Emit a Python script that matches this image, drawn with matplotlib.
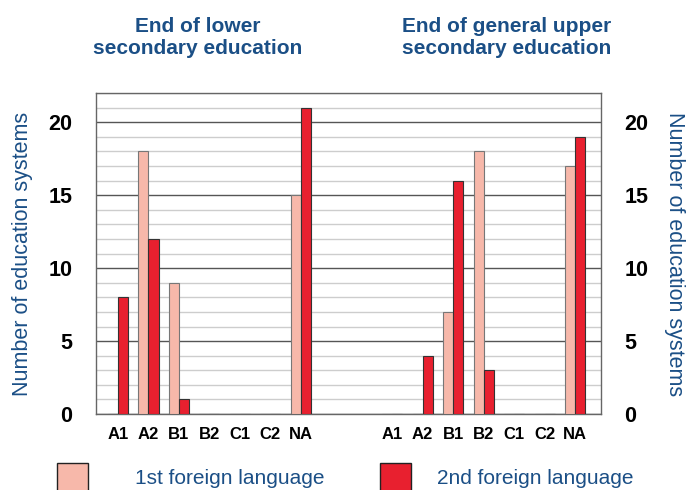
import matplotlib
matplotlib.use("Agg")
import matplotlib.pyplot as plt
from matplotlib.patches import Rectangle
import numpy as np

# niveles CEFR
levels = ["A1", "A2", "B1", "B2", "C1", "C2", "NA"]

# fin de secundaria inferior
lower_first = [0, 18, 9, 0, 0, 0, 15]
lower_second = [8, 12, 1, 0, 0, 0, 21]

# fin de secundaria superior general
upper_first = [0, 0, 7, 18, 0, 0, 17]
upper_second = [0, 4, 16, 3, 0, 0, 19]

titles = ["End of lower\nsecondary education", "End of general upper\nsecondary education"]
legend_labels = ["1st foreign language", "2nd foreign language"]
ylabel = "Number of education systems"

pink = "#F7B8AA"
red = "#E8202F"
blue = "#1B4F86"
plain = ["Liberation Sans", "DejaVu Sans"]

fig = plt.figure(figsize=(6.86, 4.9), dpi=100)
ax = fig.add_axes([0.140, 0.155, 0.736, 0.655])

x_lower = np.arange(len(levels))
x_upper = np.arange(len(levels)) + 9
w = 0.33

ax.bar(x_lower - w / 2, lower_first, w, color=pink, edgecolor="#777777", linewidth=0.8, zorder=3)
ax.bar(x_lower + w / 2, lower_second, w, color=red, edgecolor="#333333", linewidth=0.8, zorder=3)
ax.bar(x_upper - w / 2, upper_first, w, color=pink, edgecolor="#777777", linewidth=0.8, zorder=3)
ax.bar(x_upper + w / 2, upper_second, w, color=red, edgecolor="#333333", linewidth=0.8, zorder=3)

ax.set_xlim(-0.72, 15.85)
ax.set_ylim(0, 22)

# rejilla
ax.set_yticks(range(0, 21, 5))
ax.set_yticks(range(0, 23), minor=True)
ax.grid(axis="y", which="minor", color="#CDCDCD", linewidth=1.0, zorder=0)
ax.grid(axis="y", which="major", color="#555555", linewidth=1.0, zorder=1)
ax.tick_params(axis="y", which="both", length=0)
for s in ax.spines.values():
    s.set_color("#666666")
    s.set_linewidth(1.0)

ax.set_xticks(list(x_lower) + list(x_upper))
ax.set_xticklabels(levels + levels, fontsize=12, fontweight="bold", family=plain)
ax.tick_params(axis="x", length=0, pad=9)

ax.tick_params(axis="y", labelsize=15.5, pad=17)
for t in ax.get_yticklabels():
    t.set_fontweight("bold")
    t.set_family(plain)
ax.set_ylabel(ylabel, color=blue, fontsize=15.5, family=plain)
ax.yaxis.set_label_coords(-0.125, 0.5)

ax2 = ax.twinx()
ax2.set_ylim(ax.get_ylim())
ax2.set_yticks(range(0, 21, 5))
ax2.tick_params(axis="y", length=0, labelsize=15.5, pad=17)
for t in ax2.get_yticklabels():
    t.set_fontweight("bold")
    t.set_family(plain)
for s in ax2.spines.values():
    s.set_visible(False)
ax2.set_ylabel(ylabel, color=blue, fontsize=15.5, family=plain, rotation=270, va="center")
ax2.yaxis.set_label_coords(1.145, 0.5)

# titulos
fig.text(198 / 686, 1 - 37 / 490, titles[0], ha="center", va="center", color=blue,
         fontsize=15, fontweight="bold", family=plain, linespacing=1.2)
fig.text(507 / 686, 1 - 37 / 490, titles[1], ha="center", va="center", color=blue,
         fontsize=15, fontweight="bold", family=plain, linespacing=1.2)

# leyenda
for (x0, c, lab, tx) in [(57, pink, legend_labels[0], 135), (380, red, legend_labels[1], 437)]:
    fig.add_artist(Rectangle((x0 / 686, 1 - 495 / 490), 31 / 686, 32 / 490, transform=fig.transFigure,
                             facecolor=c, edgecolor="#222222", linewidth=1.0))
    fig.text(tx / 686, 1 - 478 / 490, lab, ha="left", va="center", color=blue,
             fontsize=15, family=plain)

fig.savefig("out.png", dpi=100)
